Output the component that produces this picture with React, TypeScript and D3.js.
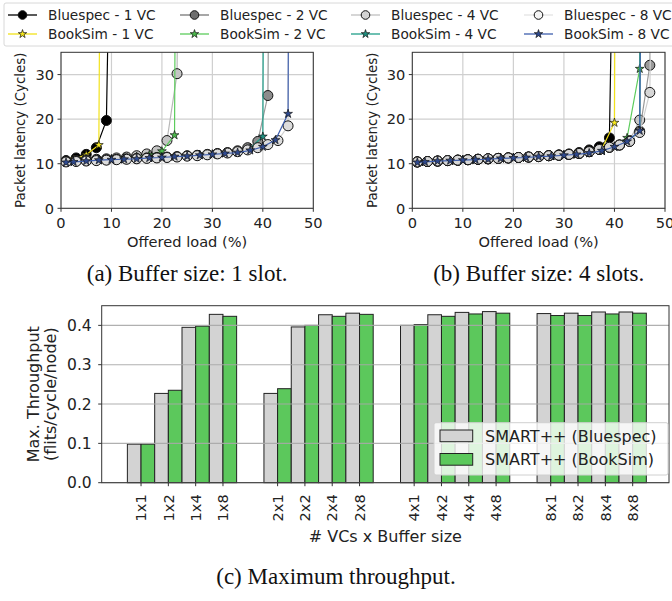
import React from "react";
import * as d3 from "d3";

// ---------- Data: latency plots ----------
const bsX = [1, 3, 5, 7, 9, 11, 13, 15, 17, 19, 21, 23, 25, 27, 29, 31, 33, 35, 37, 39, 41, 43, 45, 47, 49];
const bkX = [1, 2.5, 5, 7.5, 10, 12.5, 15, 17.5, 20, 22.5, 25, 27.5, 30, 32.5, 35, 37.5, 40, 42.5, 45, 47.5];

// Buffer size 1 slot
const a_b1 = [10.7, 11.3, 12.1, 13.6, 19.7, 150];
const a_k1 = [10.5, 11.0, 12.0, 14.2, 500];
const a_b2 = [10.6, 10.7, 10.9, 11.0, 11.1, 11.3, 11.5, 11.8, 12.2, 12.9, 15.2, 30.2, 300];
const a_k2 = [10.4, 10.6, 10.8, 11.0, 11.1, 11.3, 11.6, 12.0, 12.8, 16.4, 600];
const a_b4 = [10.5, 10.6, 10.7, 10.8, 10.9, 11.0, 11.1, 11.2, 11.3, 11.4, 11.5, 11.6, 11.8, 11.9, 12.1, 12.3, 12.5, 12.9, 13.6, 15.0, 25.3, 300];
const a_k4 = [10.3, 10.4, 10.6, 10.8, 10.9, 11.0, 11.2, 11.3, 11.5, 11.6, 11.8, 12.0, 12.1, 12.4, 12.7, 13.5, 16.1, 800];
const a_b8 = [10.4, 10.5, 10.6, 10.7, 10.8, 10.9, 11.0, 11.1, 11.2, 11.3, 11.4, 11.5, 11.7, 11.8, 12.0, 12.2, 12.4, 12.7, 13.1, 13.6, 14.3, 15.2, 18.5, 400];
const a_k8 = [10.3, 10.4, 10.6, 10.8, 10.9, 11.0, 11.1, 11.3, 11.4, 11.6, 11.7, 11.9, 12.1, 12.3, 12.5, 13.0, 13.8, 15.3, 21.2, 900];

// Buffer size 4 slots
const b_b1 = [10.4, 10.5, 10.6, 10.7, 10.8, 10.9, 11.0, 11.1, 11.2, 11.3, 11.4, 11.5, 11.6, 11.8, 12.0, 12.2, 12.5, 13.1, 13.8, 15.8, 150];
const b_k1 = [10.3, 10.4, 10.6, 10.7, 10.8, 10.9, 11.0, 11.2, 11.3, 11.4, 11.6, 11.7, 11.9, 12.1, 12.6, 13.3, 19.2, 800];
const b_b2 = [10.4, 10.5, 10.6, 10.7, 10.8, 10.9, 11.0, 11.1, 11.2, 11.3, 11.4, 11.5, 11.6, 11.8, 11.9, 12.1, 12.3, 12.7, 13.2, 13.7, 14.2, 15.2, 19.8, 300];
const b_k2 = [10.3, 10.4, 10.6, 10.7, 10.8, 10.9, 11.0, 11.2, 11.3, 11.4, 11.6, 11.7, 11.9, 12.1, 12.4, 12.9, 13.9, 15.8, 31.3, 600];
const b_b4 = [10.4, 10.5, 10.6, 10.7, 10.8, 10.9, 11.0, 11.1, 11.2, 11.3, 11.4, 11.5, 11.6, 11.8, 11.9, 12.1, 12.3, 12.7, 13.2, 13.7, 14.2, 15.0, 17.3, 32.1, 300];
const b_k4 = [10.3, 10.4, 10.6, 10.7, 10.8, 10.9, 11.0, 11.2, 11.3, 11.4, 11.6, 11.7, 11.9, 12.1, 12.4, 12.9, 13.8, 15.0, 17.2, 600];
const b_b8 = [10.4, 10.5, 10.6, 10.7, 10.8, 10.9, 11.0, 11.1, 11.2, 11.3, 11.4, 11.5, 11.6, 11.8, 11.9, 12.1, 12.3, 12.7, 13.2, 13.7, 14.2, 15.0, 17.0, 26.0, 200];
const b_k8 = [10.3, 10.4, 10.6, 10.7, 10.8, 10.9, 11.0, 11.2, 11.3, 11.4, 11.6, 11.7, 11.9, 12.1, 12.4, 12.9, 13.8, 15.0, 17.4, 500];

const xTicksLat = [0, 10, 20, 30, 40, 50];
const yTicksLat = [0, 10, 20, 30];

const legendLabels = ["Bluespec - 1 VC", "BookSim - 1 VC", "Bluespec - 2 VC", "BookSim - 2 VC", "Bluespec - 4 VC", "BookSim - 4 VC", "Bluespec - 8 VC", "BookSim - 8 VC"];

// ---------- Data: throughput bars ----------
const vcGroups = ["1", "2", "4", "8"];
const bufSizes = ["1", "2", "4", "8"];
const bluespecTp = [0.098, 0.227, 0.395, 0.428, 0.227, 0.396, 0.427, 0.431, 0.400, 0.427, 0.433, 0.435, 0.430, 0.431, 0.434, 0.434];
const booksimTp = [0.098, 0.235, 0.398, 0.423, 0.239, 0.400, 0.423, 0.428, 0.402, 0.423, 0.429, 0.431, 0.425, 0.425, 0.429, 0.431];
const yTicksTp = [0.0, 0.1, 0.2, 0.3, 0.4];

const FONT = "DejaVu Sans, sans-serif";
const SERIF = "Liberation Serif, Times New Roman, serif";

type Series = { xs: number[]; ys: number[]; line: string; fill: string; star: boolean };

const starPath = d3.symbol().type(d3.symbolStar).size(24)() as string;
const starPathLeg = d3.symbol().type(d3.symbolStar).size(22)() as string;

function mk(xs: number[], ys: number[], line: string, fill: string, star: boolean): Series {
  return { xs: xs.slice(0, ys.length), ys, line, fill, star };
}

const seriesA: Series[] = [
  mk(bsX, a_b1, "#000000", "#000000", false),
  mk(bkX, a_k1, "#f2e21a", "#f7e81c", true),
  mk(bsX, a_b2, "#b8b8b8", "#c4c4c4", false),
  mk(bkX, a_k2, "#5ccc5c", "#4cbb4c", true),
  mk(bsX, a_b4, "#999999", "#8c8c8c", false),
  mk(bkX, a_k4, "#1f9e89", "#1f9080", true),
  mk(bsX, a_b8, "#d0d0d0", "#dcdcdc", false),
  mk(bkX, a_k8, "#3f5fad", "#2f4a8f", true),
];

const seriesB: Series[] = [
  mk(bsX, b_b1, "#000000", "#000000", false),
  mk(bkX, b_k1, "#f2e21a", "#f7e81c", true),
  mk(bsX, b_b2, "#b8b8b8", "#c8c8c8", false),
  mk(bkX, b_k2, "#5ccc5c", "#4cbb4c", true),
  mk(bsX, b_b4, "#999999", "#9a9a9a", false),
  mk(bkX, b_k4, "#1f9e89", "#1f9080", true),
  mk(bsX, b_b8, "#d0d0d0", "#d6d6d6", false),
  mk(bkX, b_k8, "#3f5fad", "#2f4a8f", true),
];

const legendStyles = [
  { line: "#000000", fill: "#000000", star: false },
  { line: "#f2e21a", fill: "#f7e81c", star: true },
  { line: "#777777", fill: "#6e6e6e", star: false },
  { line: "#5ccc5c", fill: "#4cbb4c", star: true },
  { line: "#c0c0c0", fill: "#d3d3d3", star: false },
  { line: "#1f9e89", fill: "#1f9080", star: true },
  { line: "#e4e4e4", fill: "#f4f4f4", star: false },
  { line: "#3f5fad", fill: "#2f4a8f", star: true },
];

function LatencyPlot({ left, right, top, bottom, series, id, caption, labelX }: any) {
  const x = d3.scaleLinear().domain([0, 50]).range([left, right]);
  const y = d3.scaleLinear().domain([0, 35]).range([bottom, top]);
  const line = d3.line<[number, number]>().x((d) => x(d[0])).y((d) => y(d[1]));
  const cx = (left + right) / 2;
  return (
    <g>
      <defs>
        <clipPath id={id}>
          <rect x={left} y={top} width={right - left} height={bottom - top} />
        </clipPath>
      </defs>
      {xTicksLat.map((t) => (
        <line key={"gx" + t} x1={x(t)} x2={x(t)} y1={top} y2={bottom} stroke="#cfcfcf" strokeWidth={1.2} />
      ))}
      {yTicksLat.map((t) => (
        <line key={"gy" + t} x1={left} x2={right} y1={y(t)} y2={y(t)} stroke="#cfcfcf" strokeWidth={1.2} />
      ))}
      <g clipPath={`url(#${id})`}>
        {series.map((s: Series, i: number) => {
          const pts: [number, number][] = s.xs.map((xv, k) => [xv, s.ys[k]]);
          return (
            <g key={i}>
              <path d={line(pts) as string} fill="none" stroke={s.line} strokeWidth={1.2} />
              {pts.map((p, k) =>
                s.star ? (
                  <path key={k} d={starPath} transform={`translate(${x(p[0])},${y(p[1])})`} fill={s.fill} stroke="#111" strokeWidth={0.7} />
                ) : (
                  <circle key={k} cx={x(p[0])} cy={y(p[1])} r={5} fill={s.fill} stroke="#111" strokeWidth={1} />
                )
              )}
            </g>
          );
        })}
      </g>
      <rect x={left} y={top} width={right - left} height={bottom - top} fill="none" stroke="#333" strokeWidth={1} />
      {xTicksLat.map((t) => (
        <g key={"tx" + t}>
          <line x1={x(t)} x2={x(t)} y1={bottom} y2={bottom + 3.5} stroke="#333" />
          <text x={x(t)} y={bottom + 20} textAnchor="middle" fontFamily={FONT} fontSize={14.6} fill="#222">{t}</text>
        </g>
      ))}
      {yTicksLat.map((t) => (
        <g key={"ty" + t}>
          <line x1={left - 3.5} x2={left} y1={y(t)} y2={y(t)} stroke="#333" />
          <text x={left - 7} y={y(t)} dy="0.36em" textAnchor="end" fontFamily={FONT} fontSize={14.6} fill="#222">{t}</text>
        </g>
      ))}
      <text x={cx} y={bottom + 39} textAnchor="middle" fontFamily={FONT} fontSize={14.6} fill="#222">Offered load (%)</text>
      <text transform={`translate(${labelX},${(top + bottom) / 2}) rotate(-90)`} textAnchor="middle" fontFamily={FONT} fontSize={13.4} fill="#222">Packet latency (Cycles)</text>
      <text x={cx} y={281} textAnchor="middle" fontFamily={SERIF} fontSize={23} fill="#111">{caption}</text>
    </g>
  );
}

function TopLegend() {
  const colLine = [8, 180, 351, 524];
  const rowY = [15, 34];
  return (
    <g>
      <rect x={4} y={3} width={672} height={43} rx={2} fill="#fff" stroke="#d8d8d8" strokeWidth={1} />
      {legendLabels.map((lab, i) => {
        const col = Math.floor(i / 2);
        const row = i % 2;
        const st = legendStyles[i];
        const x0 = colLine[col];
        const yy = rowY[row];
        const mx = x0 + 14.5;
        return (
          <g key={i}>
            <line x1={x0} x2={x0 + 29} y1={yy} y2={yy} stroke={st.line} strokeWidth={1.3} />
            {st.star ? (
              <path d={starPathLeg} transform={`translate(${mx},${yy})`} fill={st.fill} stroke="#111" strokeWidth={0.7} />
            ) : (
              <circle cx={mx} cy={yy} r={4.3} fill={st.fill} stroke="#111" strokeWidth={1} />
            )}
            <text x={x0 + 40} y={yy + 5.1} fontFamily={FONT} fontSize={13.7} fill="#222">{lab}</text>
          </g>
        );
      })}
    </g>
  );
}

function BarChart() {
  const left = 101.7, right = 669, top = 305.7, bottom = 482.7;
  const cats: { label: string; pos: number }[] = [];
  vcGroups.forEach((g, gi) => bufSizes.forEach((b, bi) => cats.push({ label: `${g}x${b}`, pos: gi * 5 + bi })));
  const x = d3.scaleLinear().domain([-1.44, 19.33]).range([left, right]);
  const y = d3.scaleLinear().domain([0, 0.45]).range([bottom, top]);
  const bw = (x(1) - x(0)) * 0.5;
  return (
    <g>
      {cats.map((c, i) => (
        <g key={i}>
          <rect x={x(c.pos) - bw} y={y(bluespecTp[i])} width={bw} height={bottom - y(bluespecTp[i])} fill="#d3d3d3" stroke="#222" strokeWidth={1} />
          <rect x={x(c.pos)} y={y(booksimTp[i])} width={bw} height={bottom - y(booksimTp[i])} fill="#5cc85c" stroke="#222" strokeWidth={1} />
        </g>
      ))}
      {yTicksTp.map((t) => (
        <line key={"g" + t} x1={left} x2={right} y1={y(t)} y2={y(t)} stroke="#a8a8a8" strokeWidth={1.1} opacity={0.9} />
      ))}
      <rect x={left} y={top} width={right - left} height={bottom - top} fill="none" stroke="#333" strokeWidth={1} />
      {yTicksTp.map((t) => (
        <g key={"t" + t}>
          <line x1={left - 3.5} x2={left} y1={y(t)} y2={y(t)} stroke="#333" />
          <text x={left - 10} y={y(t)} dy="0.36em" textAnchor="end" fontFamily={FONT} fontSize={15.5} fill="#222">{t.toFixed(1)}</text>
        </g>
      ))}
      {cats.map((c, i) => (
        <g key={"xt" + i}>
          <line x1={x(c.pos)} x2={x(c.pos)} y1={bottom} y2={bottom + 3.5} stroke="#333" />
          <text transform={`translate(${x(c.pos)},${bottom + 11.5}) rotate(-90)`} textAnchor="end" dy="0.36em" fontFamily={FONT} fontSize={14.6} fill="#222">{c.label}</text>
        </g>
      ))}
      <text x={(left + right) / 2} y={542} textAnchor="middle" fontFamily={FONT} fontSize={16} fill="#222"># VCs x Buffer size</text>
      <text transform={`translate(39,${(top + bottom) / 2}) rotate(-90)`} textAnchor="middle" fontFamily={FONT} fontSize={16} fill="#222">Max. Throughput</text>
      <text transform={`translate(56,${(top + bottom) / 2}) rotate(-90)`} textAnchor="middle" fontFamily={FONT} fontSize={16} fill="#222">(flits/cycle/node)</text>
      <g>
        <rect x={434} y={422.7} width={234} height={52.3} rx={2} fill="#fff" fillOpacity={0.8} stroke="#d0d0d0" strokeWidth={1} />
        <rect x={440} y={430} width={32.7} height={11.7} fill="#d3d3d3" stroke="#222" strokeWidth={1} />
        <text x={485} y={441.5} fontFamily={FONT} fontSize={16} fill="#222">SMART++ (Bluespec)</text>
        <rect x={440} y={453.5} width={32.7} height={11.7} fill="#5cc85c" stroke="#222" strokeWidth={1} />
        <text x={485} y={465} fontFamily={FONT} fontSize={16} fill="#222">SMART++ (BookSim)</text>
      </g>
      <text x={336} y={584} textAnchor="middle" fontFamily={SERIF} fontSize={23} fill="#111">(c) Maximum throughput.</text>
    </g>
  );
}

export default function App() {
  return (
    <svg width={672} height={601} style={{ position: "absolute", left: 0, top: 0, background: "#fff" }}>
      <rect width={672} height={601} fill="#fff" />
      <LatencyPlot left={61} right={313.3} top={52.3} bottom={208.3} series={seriesA} id="clipA" caption="(a) Buffer size: 1 slot." labelX={25} />
      <LatencyPlot left={412.3} right={665} top={52.3} bottom={208.3} series={seriesB} id="clipB" caption="(b) Buffer size: 4 slots." labelX={377} />
      <TopLegend />
      <BarChart />
    </svg>
  );
}
